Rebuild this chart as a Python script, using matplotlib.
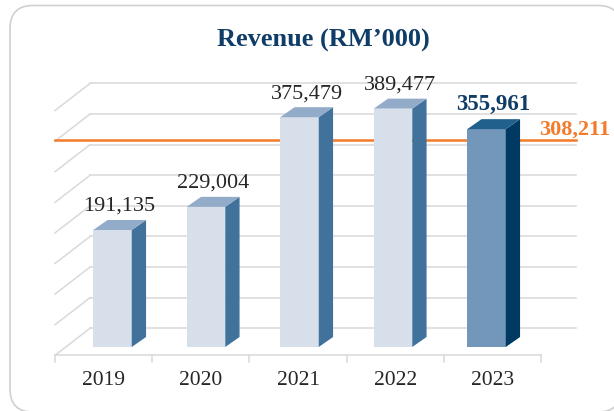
import matplotlib.pyplot as plt
import numpy as np
from matplotlib.patches import Polygon, FancyBboxPatch

years = ["2019", "2020", "2021", "2022", "2023"]
revenue = [191135, 229004, 375479, 389477, 355961]
average = np.mean(revenue)  # five-year average line (308,211)

plt.rcParams['font.family'] = ['Liberation Serif', 'DejaVu Serif']

W, H = 614, 411
fig = plt.figure(figsize=(W / 100, H / 100), dpi=100)

# rounded frame round the whole chart
frame = FancyBboxPatch((0.10, -0.01), 6.11, 4.065, boxstyle="round,pad=0,rounding_size=0.23",
                       transform=fig.dpi_scale_trans, facecolor="white", edgecolor="#d0d0d0",
                       lw=1.2, zorder=-10)
fig.patches.append(frame)

grid = "#d9d9d9"
ymax = 400000

# back wall axes (pixel layout of the reference)
wall_l, wall_r, wall_base, wall_h = 90, 576, 328.3, 244.8
ax = fig.add_axes([wall_l / W, (H - wall_base) / H, (wall_r - wall_l) / W, wall_h / H])
ax.set_xlim(-0.5, 4.5)
ax.set_ylim(0, ymax)
ax.axis("off")

ux = (wall_r - wall_l) / 5      # px per category
uy = wall_h / ymax              # px per value unit
dx = -35 / ux                   # floor depth, to the front
dy = -27 / uy

for v in range(0, ymax + 1, 50000):
    ax.plot([-0.5, 4.5], [v, v], color=grid, lw=1.1, clip_on=False)
    ax.plot([-0.5, -0.5 + dx], [v, v + dy], color=grid, lw=1.1, clip_on=False)

# floor front edge with ticks and year labels
ax.plot([-0.5 + dx, 4.5 + dx], [dy, dy], color=grid, lw=1.1, clip_on=False)
for b in np.arange(-0.5, 5, 1):
    ax.plot([b + dx, b + dx], [dy, dy - 7 / uy], color=grid, lw=1.1, clip_on=False)
for i, yr in enumerate(years):
    ax.text(i + dx, dy - 25 / uy, yr, ha="center", va="center", fontsize=15.5, color="#262626")

# average line
orange = "#f47b2a"
ax.plot([-0.5 + dx, 4.5], [average, average], color=orange, lw=1.8, clip_on=False)
ax.annotate(f"{average:,.0f}", xy=(4.5, average), xytext=(25, 3.5), textcoords="offset points",
            ha="right", va="baseline", fontsize=16, fontweight="bold", color=orange)

# bars axes
bar_l, bar_r, bar_base = 65.75, 533.25, 347
bx = fig.add_axes([bar_l / W, (H - bar_base) / H, (bar_r - bar_l) / W, wall_h / H])
bx.set_xlim(-0.5, 4.5)
bx.set_ylim(0, ymax)
bx.axis("off")

bw = 0.412
ddx = 14.3 / ((bar_r - bar_l) / 5)
ddy = 10 / uy

front = ["#d7dfea"] * 4 + ["#7397ba"]
side = ["#41729c"] * 4 + ["#003a63"]
top = ["#91abc8"] * 4 + ["#21608c"]

x = np.arange(len(years))
bx.bar(x, revenue, width=bw, color=front, zorder=3)
for i, v in enumerate(revenue):
    r = x[i] + bw / 2
    l = x[i] - bw / 2
    bx.add_patch(Polygon([(r, 0), (r + ddx, ddy), (r + ddx, v + ddy), (r, v)],
                         closed=True, facecolor=side[i], edgecolor="none", zorder=3, clip_on=False))
    bx.add_patch(Polygon([(l, v), (l + ddx, v + ddy), (r + ddx, v + ddy), (r, v)],
                         closed=True, facecolor=top[i], edgecolor="none", zorder=3, clip_on=False))
    last = i == len(revenue) - 1
    bx.annotate(f"{v:,}", xy=(x[i] + ddx / 2, v + ddy), xytext=(0, 6.5), textcoords="offset points",
                ha="center", va="baseline", fontsize=16.5 if last else 16,
                fontweight="bold" if last else "normal",
                color="#0f3d67" if last else "#262626", annotation_clip=False)

fig.text(323.5 / W, 1 - 40 / H, "Revenue (RM’000)", ha="center", va="center",
         fontsize=19, fontweight="bold", color="#0f3d67")

fig.savefig("out.png", dpi=100)
